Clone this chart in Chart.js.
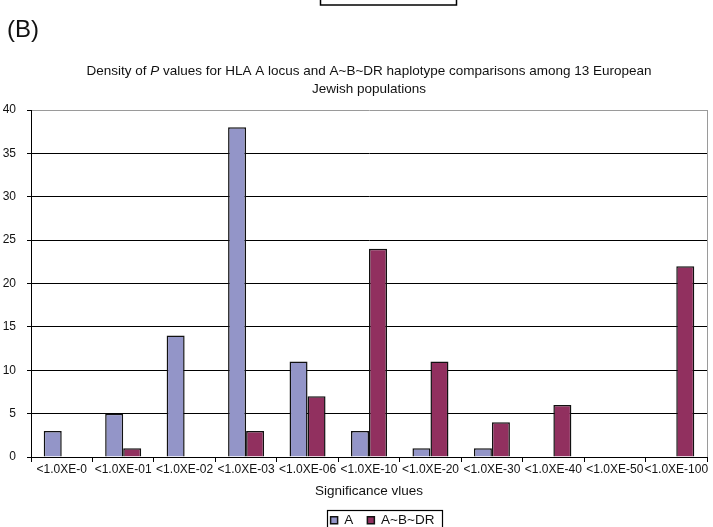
<!DOCTYPE html>
<html>
<head>
<meta charset="utf-8">
<script src="https://cdn.jsdelivr.net/npm/chart.js@4.4.1/dist/chart.umd.min.js"></script>
<style>
  html, body { margin: 0; padding: 0; background: #ffffff; }
  #wrap { position: relative; width: 713px; height: 527px; }
</style>
</head>
<body>
<div id="wrap"><canvas id="c" width="713" height="527"></canvas></div>
<script>
// Significance bins (P value thresholds)
const categories = ['<1.0XE-0', '<1.0XE-01', '<1.0XE-02', '<1.0XE-03', '<1.0XE-06', '<1.0XE-10',
                    '<1.0XE-20', '<1.0XE-30', '<1.0XE-40', '<1.0XE-50', '<1.0XE-100'];
// Counts of comparisons per bin
const seriesA    = [3, 5, 14, 38, 11, 3, 1, 1, 0, 0, 0];
const seriesABDR = [0, 1, 0, 3, 7, 24, 11, 4, 6, 0, 22];
const seriesNames = ['A', 'A~B~DR'];
const yTicks = [0, 5, 10, 15, 20, 25, 30, 35, 40];

const FONT = '"Liberation Sans", Arial, sans-serif';
const INK = '#111';

// Panel label, two-line title with italic P, partial frame at top, plot border and legend frame
const decorations = {
  id: 'decorations',
  afterLayout(chart) {
    // legend sits a little right of the canvas centre
    const lg = chart.legend;
    if (lg) { lg.left += 29; lg.right += 29; }
  },
  afterDraw(chart) {
    const ctx = chart.ctx;
    const area = chart.chartArea;
    ctx.save();

    // frame fragment at the top edge
    ctx.strokeStyle = '#000';
    ctx.lineWidth = 1.5;
    ctx.strokeRect(320.5, -12, 136, 17);

    // panel label
    ctx.fillStyle = INK;
    ctx.font = '24px ' + FONT;
    ctx.textBaseline = 'middle';
    ctx.textAlign = 'left';
    ctx.fillText('(B)', 7, 30);

    // title line 1 with italic P
    const cx = (area.left + area.right) / 2;
    const size = '13.5px ';
    const parts = [
      { t: 'Density of ', f: size + FONT },
      { t: 'P', f: 'italic ' + size + FONT },
      { t: ' values for HLA A locus and A~B~DR haplotype comparisons among 13 European', f: size + FONT }
    ];
    let total = 0;
    parts.forEach(p => { ctx.font = p.f; p.w = ctx.measureText(p.t).width; total += p.w; });
    let x = cx - total / 2;
    parts.forEach(p => { ctx.font = p.f; ctx.fillText(p.t, x, 71); x += p.w; });
    ctx.font = size + FONT;
    ctx.textAlign = 'center';
    ctx.fillText('Jewish populations', cx, 89);

    // grey right border of the plot area
    ctx.strokeStyle = '#9a9a9a';
    ctx.lineWidth = 1;
    ctx.beginPath();
    ctx.moveTo(Math.round(area.right) + 0.5, area.top);
    ctx.lineTo(Math.round(area.right) + 0.5, area.bottom);
    ctx.stroke();

    // frame around legend
    const boxes = chart.legend.legendHitBoxes;
    if (boxes && boxes.length) {
      let l = Infinity, r = -Infinity, t = Infinity;
      boxes.forEach(h => { l = Math.min(l, h.left); r = Math.max(r, h.left + h.width); t = Math.min(t, h.top); });
      ctx.strokeStyle = '#000';
      ctx.lineWidth = 1.2;
      ctx.strokeRect(Math.round(l - 4) + 0.5, Math.round(t - 4) + 0.5, Math.round(r - l + 11), 40);
    }
    ctx.restore();
  }
};

new Chart(document.getElementById('c'), {
  type: 'bar',
  data: {
    labels: categories,
    datasets: [
      { label: seriesNames[0], data: seriesA, backgroundColor: '#9395c8', borderColor: '#111', borderWidth: 1.5 },
      { label: seriesNames[1], data: seriesABDR, backgroundColor: '#91305f', borderColor: '#111', borderWidth: 1.5 }
    ]
  },
  options: {
    responsive: false,
    animation: false,
    devicePixelRatio: 1,
    layout: { padding: { top: 110, left: 0, right: 6, bottom: -10 } },
    datasets: { bar: { categoryPercentage: 0.586, barPercentage: 1.0 } },
    plugins: {
      title: { display: false },
      tooltip: { enabled: false },
      legend: {
        position: 'bottom',
        labels: {
          font: { family: FONT, size: 13.5 }, color: INK,
          boxWidth: 7, boxHeight: 7, padding: 14
        }
      }
    },
    scales: {
      x: {
        afterFit(axis) { axis.height = 42.5; },
        grid: { drawOnChartArea: false, drawTicks: true, tickLength: 5, tickColor: '#000', offset: true },
        border: { color: '#000', width: 1 },
        ticks: { color: INK, font: { family: FONT, size: 12 }, maxRotation: 0, minRotation: 0, autoSkip: false, padding: 0 },
        title: { display: true, text: 'Significance vlues', color: INK, font: { family: FONT, size: 13.5 }, padding: { top: 0, bottom: 0 } }
      },
      y: {
        min: 0, max: 40,
        afterFit(axis) { axis.width = 31; },
        afterBuildTicks(axis) { axis.ticks = yTicks.map(v => ({ value: v })); },
        grid: {
          color: ctx => (ctx.tick && ctx.tick.value === 40 ? '#9a9a9a' : '#000'),
          lineWidth: 1, tickLength: 4, tickColor: '#000'
        },
        border: { color: '#000', width: 1 },
        ticks: { color: INK, font: { family: FONT, size: 12 }, padding: 11 }
      }
    }
  },
  plugins: [decorations]
});
</script>
</body>
</html>
